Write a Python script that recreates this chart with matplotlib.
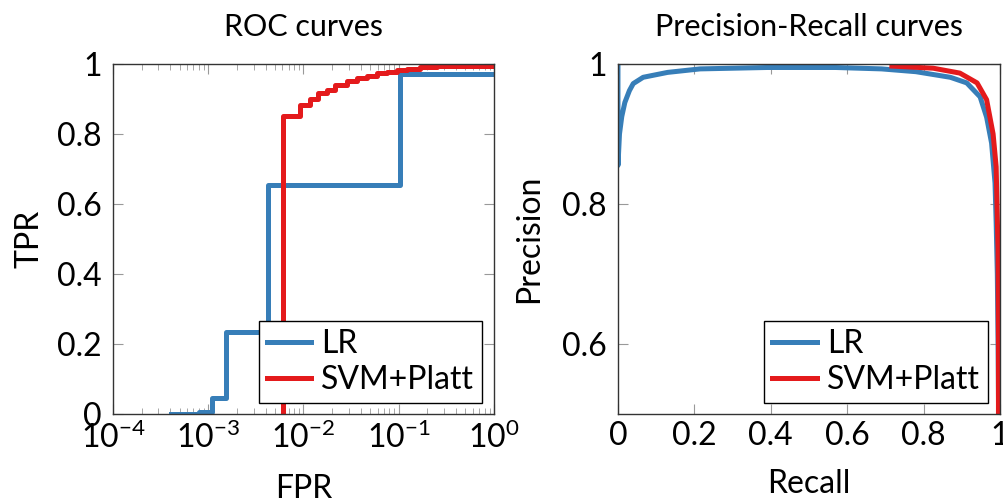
import numpy as np
import matplotlib
matplotlib.use("Agg")
import matplotlib.pyplot as plt
from matplotlib.ticker import FuncFormatter, LogLocator, NullFormatter

plt.rcParams['font.family'] = ['Lato', 'DejaVu Sans']
plt.rcParams['mathtext.fontset'] = 'custom'
plt.rcParams['mathtext.rm'] = 'Lato'
plt.rcParams['mathtext.it'] = 'Lato:italic'
plt.rcParams['font.size'] = 23

blue = "#377eb8"
red = "#e41a1c"

## ROC data (step points)
roc_lr_fpr = [4.1e-4, 8.0e-4, 1.1e-3, 1.55e-3, 4.2e-3, 0.103, 1.0]
roc_lr_tpr = [0.0, 0.005, 0.045, 0.235, 0.655, 0.97, 0.97]
roc_svm_fpr = [6.1e-3, 6.1e-3, 9.2e-3, 1.17e-2, 1.43e-2, 1.75e-2, 2.13e-2, 2.84e-2,
               3.62e-2, 4.6e-2, 5.9e-2, 7.5e-2, 9.5e-2, 0.121, 0.167, 0.25, 1.0]
roc_svm_tpr = [0.0, 0.852, 0.883, 0.899, 0.916, 0.927, 0.94, 0.95,
               0.959, 0.966, 0.973, 0.978, 0.983, 0.986, 0.99, 0.994, 0.994]

## PR data
pr_lr_rec = [0.0, 0.0, 0.004, 0.01, 0.018, 0.03, 0.04, 0.066, 0.13, 0.215, 0.39, 0.57,
             0.69, 0.78, 0.87, 0.913, 0.948, 0.965, 0.978, 0.987, 0.99, 0.993, 0.995, 0.997]
pr_lr_prec = [1.0, 0.855, 0.9, 0.925, 0.945, 0.962, 0.972, 0.981, 0.988, 0.993, 0.995, 0.995,
              0.993, 0.989, 0.981, 0.973, 0.953, 0.924, 0.887, 0.83, 0.773, 0.7, 0.6, 0.45]
pr_svm_rec = [0.717, 0.825, 0.895, 0.94, 0.965, 0.982, 0.99, 0.993, 0.995, 0.996, 0.996]
pr_svm_prec = [0.997, 0.994, 0.987, 0.973, 0.949, 0.9, 0.853, 0.78, 0.734, 0.6, 0.45]

fig = plt.figure(figsize=(10.04, 4.98), dpi=100)
ax1 = fig.add_axes([0.1125, 0.1687, 0.3795, 0.7028])
ax2 = fig.add_axes([0.6155, 0.1687, 0.3805, 0.7028])

fmt = FuncFormatter(lambda v, p: "%g" % v)

def style(ax):
    ax.tick_params(which='both', direction='in', top=True, right=True, color='#999999',
                   labelsize=23)
    ax.tick_params(which='major', length=7, width=0.8)
    ax.tick_params(which='minor', length=4, width=0.6)
    ax.tick_params(axis='x', pad=5)
    ax.tick_params(axis='y', pad=8)
    for s in ax.spines.values():
        s.set_linewidth(1.0)
        s.set_color('#333333')

leg_kw = dict(loc='lower right', borderaxespad=0, fancybox=False, edgecolor='black',
              framealpha=1, handlelength=1.4, handletextpad=0.3, borderpad=0.25,
              labelspacing=0.2, fontsize=23)

## ROC curves
ax1.plot(roc_lr_fpr, roc_lr_tpr, drawstyle='steps-post', color=blue, lw=3.6, label='LR')
ax1.plot(roc_svm_fpr, roc_svm_tpr, drawstyle='steps-post', color=red, lw=3.6, label='SVM+Platt')
ax1.set_xscale('log')
ax1.set_xlim(1e-4, 1)
ax1.set_ylim(0, 1)
ax1.set_yticks([0, 0.2, 0.4, 0.6, 0.8, 1])
ax1.yaxis.set_major_formatter(fmt)
ax1.xaxis.set_major_locator(LogLocator(base=10, numticks=10))
ax1.xaxis.set_minor_locator(LogLocator(base=10, subs=np.arange(2, 10), numticks=10))
ax1.xaxis.set_minor_formatter(NullFormatter())
ax1.set_title('ROC curves', pad=20, fontsize=22)
ax1.set_xlabel('FPR', labelpad=15, fontsize=23)
ax1.set_ylabel('TPR', labelpad=9, fontsize=23)
style(ax1)
ax1.legend(bbox_to_anchor=(0.9685, 0.031), **leg_kw)

## PR curves
ax2.plot(pr_lr_rec, pr_lr_prec, color=blue, lw=3.6, label='LR')
ax2.plot(pr_svm_rec, pr_svm_prec, color=red, lw=3.6, label='SVM+Platt')
ax2.set_xlim(0, 1)
ax2.set_ylim(0.5, 1)
ax2.set_xticks([0, 0.2, 0.4, 0.6, 0.8, 1])
ax2.set_yticks([0.6, 0.8, 1])
ax2.xaxis.set_major_formatter(fmt)
ax2.yaxis.set_major_formatter(fmt)
ax2.set_title('Precision-Recall curves', pad=20, fontsize=22)
ax2.set_xlabel('Recall', labelpad=13, fontsize=23)
ax2.set_ylabel('Precision', labelpad=13, fontsize=23)
style(ax2)
ax2.legend(bbox_to_anchor=(0.968, 0.031), **leg_kw)

fig.savefig('out.png', dpi=100)
